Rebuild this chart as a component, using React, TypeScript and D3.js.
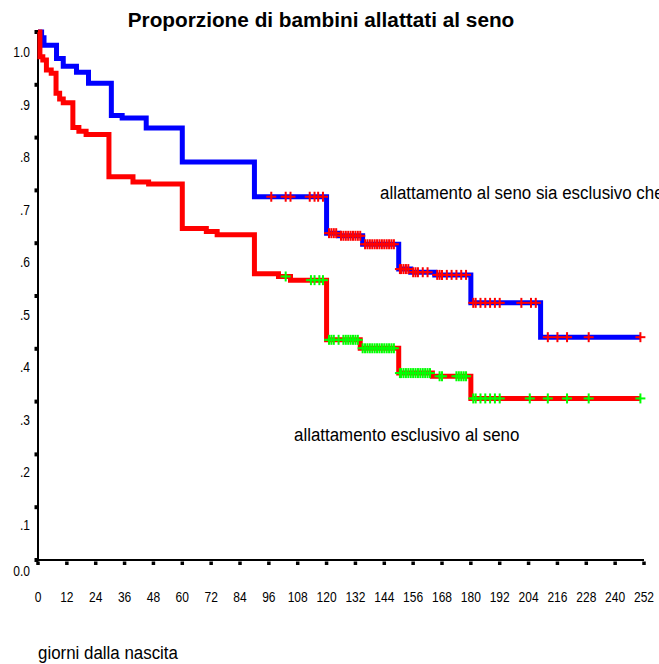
import React from "react";
import * as d3 from "d3";

// ---- data ----
const xTickValues = d3.range(0, 253, 12);
const yTickValues = [0, 0.1, 0.2, 0.3, 0.4, 0.5, 0.6, 0.7, 0.8, 0.9, 1.0];
const yTickLabels = ["0.0", ".1", ".2", ".3", ".4", ".5", ".6", ".7", ".8", ".9", "1.0"];

const titleText = "Proporzione di bambini allattati al seno";
const xAxisTitle = "giorni dalla nascita";
const anyLabel = "allattamento al seno sia esclusivo che";
const exclLabel = "allattamento esclusivo al seno";

const followUpEnd = 250.5;

// any breastfeeding (blue)
const anyEventDays = [0, 1.5, 2.5, 7.7, 10.5, 16, 21, 30.5, 35, 45, 60, 90, 120, 125, 135, 150, 155, 165, 180, 209];
const anySurv = [1.0, 0.989, 0.975, 0.95, 0.935, 0.924, 0.903, 0.842, 0.837, 0.818, 0.754, 0.688, 0.619, 0.614, 0.598, 0.551, 0.545, 0.54, 0.487, 0.422];
const anyCensored = [97, 103, 105, 113, 115, 116.5, 118.5, 121, 122, 123, 124, 126, 127, 128, 129, 130, 131, 132, 133, 134, 136, 137, 138, 139, 140, 141, 142, 143, 144, 145, 146, 147, 148, 150.5, 151, 152, 153, 154, 156, 157, 158, 160, 162, 166, 167, 168, 170, 172, 174, 176, 178, 181, 182, 184, 186, 188, 190, 192, 201, 205, 207, 212, 216, 220, 229, 250.5];

// exclusive breastfeeding (red)
const exclEventDays = [0, 0.8, 2, 3.5, 5.5, 7.5, 9, 10.5, 14.5, 17, 20, 29.5, 39.5, 46, 60, 70, 74.5, 90, 100, 105, 120, 134, 150, 164, 180];
const exclSurv = [1.0, 0.953, 0.947, 0.928, 0.922, 0.884, 0.873, 0.866, 0.819, 0.812, 0.806, 0.726, 0.716, 0.712, 0.628, 0.622, 0.616, 0.542, 0.537, 0.53, 0.417, 0.401, 0.354, 0.348, 0.306];
const exclCensored = [103, 113.5, 115, 117, 118.5, 121, 122, 123, 125, 127, 128, 129, 130, 131, 132, 133, 135, 136, 137, 138, 139, 140, 141, 142, 143, 144, 145, 146, 147, 148, 150.5, 151, 152, 153, 154, 155, 156, 157, 158, 159, 160, 161, 162, 163, 167, 168, 174, 175, 176, 177, 178, 181, 182, 184, 186, 188, 190, 192, 204.5, 212, 220, 229, 250.5];

// ---- layout ----
const W = 659;
const H = 664;
const FONT = "'Liberation Sans', Arial, Helvetica, sans-serif";

const x = d3.scaleLinear().domain([0, 252]).range([38, 644]);
const y = d3.scaleLinear().domain([0, 1]).range([560, 32]);
const yLabelPos = d3.scaleLinear().domain([0.1, 1]).range([529.5, 57]);

function stepPoints(days: number[], surv: number[]): [number, number][] {
  const pts: [number, number][] = days.map((d, i) => [d, surv[i]]);
  pts.push([followUpEnd, surv[surv.length - 1]]);
  return pts;
}

function survAt(days: number[], surv: number[], t: number) {
  let v = surv[0];
  for (let i = 0; i < days.length; i++) if (days[i] <= t) v = surv[i];
  return v;
}

const stepLine = d3
  .line<[number, number]>()
  .x((d) => x(d[0]))
  .y((d) => y(d[1]))
  .curve(d3.curveStepAfter);

function SText(props: {
  x: number;
  y: number;
  fs: number;
  sx?: number;
  anchor?: string;
  weight?: string | number;
  children: React.ReactNode;
}) {
  const { x: tx, y: ty, fs, sx = 1, anchor = "start", weight = "normal", children } = props;
  return (
    <g transform={`translate(${tx},${ty}) scale(${sx},1)`}>
      <text x={0} y={0} fontSize={fs} fontFamily={FONT} fontWeight={weight} textAnchor={anchor} fill="#000">
        {children}
      </text>
    </g>
  );
}

function Censor({ days, survDays, surv, color }: { days: number[]; survDays: number[]; surv: number[]; color: string }) {
  return (
    <g stroke={color} strokeWidth={2} fill="none">
      {days.map((d, i) => {
        const cx = x(d);
        const cy = y(survAt(survDays, surv, d));
        return (
          <g key={i}>
            <line x1={cx - 5} x2={cx + 5} y1={cy} y2={cy} />
            <line x1={cx} x2={cx} y1={cy - 5} y2={cy + 5} />
          </g>
        );
      })}
    </g>
  );
}

export default function App() {
  const anyPath = stepLine(stepPoints(anyEventDays, anySurv)) || "";
  const exclPath = stepLine(stepPoints(exclEventDays, exclSurv)) || "";
  return (
    <svg
      width={W}
      height={H}
      viewBox={`0 0 ${W} ${H}`}
      style={{ position: "absolute", left: 0, top: 0, background: "#fff", overflow: "hidden" }}
    >
      <rect x={0} y={0} width={W} height={H} fill="#fff" />

      <SText x={321} y={27} fs={21} sx={0.99} anchor="middle" weight="bold">
        {titleText}
      </SText>

      {/* axes */}
      <line x1={x(0)} x2={x(0)} y1={y(1)} y2={y(0)} stroke="#000" strokeWidth={2} />
      <line x1={x(0)} x2={x(252)} y1={y(0)} y2={y(0)} stroke="#000" strokeWidth={2} />

      {yTickValues.map((v, i) => (
        <g key={"yt" + i}>
          <rect x={34.5} y={y(v) - 2} width={4} height={4} fill="#000" />
          <SText x={30} y={v === 0 ? 576 : yLabelPos(v)} fs={14} sx={0.86} anchor="end">
            {yTickLabels[i]}
          </SText>
        </g>
      ))}

      {xTickValues.map((d, i) => (
        <g key={"xt" + i}>
          <rect x={x(d) - 1.75} y={561.5} width={3.5} height={3.5} fill="#000" />
          <SText x={x(d)} y={602} fs={14} sx={0.86} anchor="middle">
            {String(d)}
          </SText>
        </g>
      ))}

      {/* curves */}
      <path d={anyPath} fill="none" stroke="#0000ff" strokeWidth={5} />
      <path d={exclPath} fill="none" stroke="#ff0000" strokeWidth={5} />

      <Censor days={anyCensored} survDays={anyEventDays} surv={anySurv} color="#ff0000" />
      <Censor days={exclCensored} survDays={exclEventDays} surv={exclSurv} color="#00ff00" />

      <SText x={380} y={199} fs={19} sx={0.89}>
        {anyLabel}
      </SText>
      <SText x={294} y={441} fs={19} sx={0.89}>
        {exclLabel}
      </SText>
      <SText x={38} y={659} fs={19} sx={0.89}>
        {xAxisTitle}
      </SText>
    </svg>
  );
}
